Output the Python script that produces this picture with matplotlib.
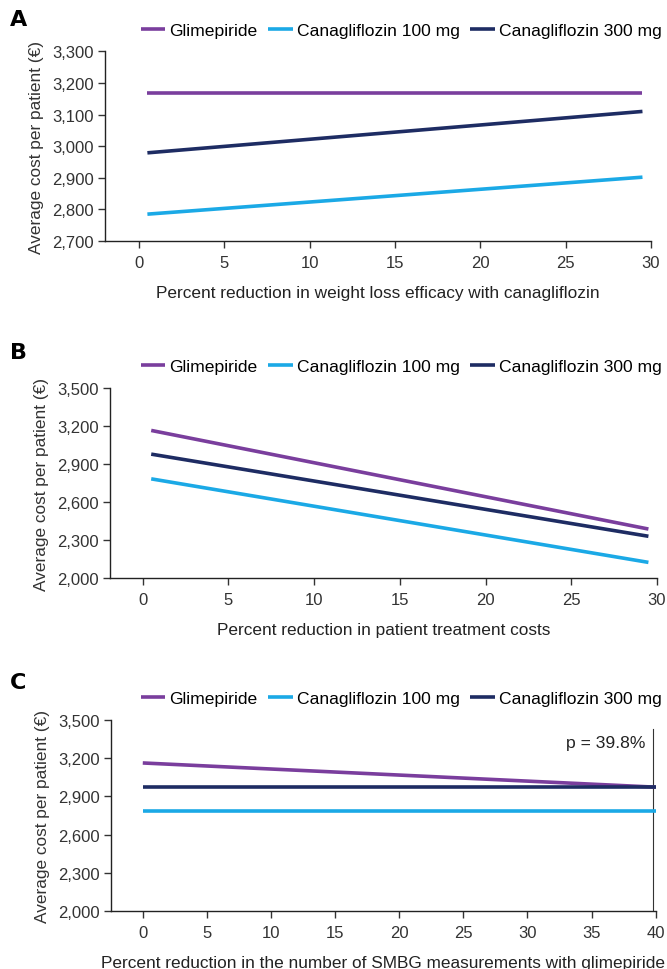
import matplotlib
matplotlib.use("Agg")
import matplotlib.pyplot as plt
from matplotlib.ticker import FuncFormatter

plt.rcParams['font.family'] = ['Liberation Sans', 'DejaVu Sans']

series_names = ["Glimepiride", "Canagliflozin 100 mg", "Canagliflozin 300 mg"]
colors = ["#7A3E9D", "#1BA9E6", "#1E2C63"]

# Panel A: weight loss efficacy reduction
a_x = [0.5, 29.5]
a_glim = [3167, 3167]
a_c100 = [2785, 2902]
a_c300 = [2979, 3110]
a_yticks = [2700, 2800, 2900, 3000, 3100, 3200, 3300]
a_xticks = [0, 5, 10, 15, 20, 25, 30]

# Panel B: patient treatment costs reduction
b_x = [0.5, 29.5]
b_glim = [3165, 2387]
b_c100 = [2783, 2124]
b_c300 = [2978, 2330]
b_yticks = [2000, 2300, 2600, 2900, 3200, 3500]
b_xticks = [0, 5, 10, 15, 20, 25, 30]

# Panel C: SMBG measurement reduction
c_x = [0, 40]
c_glim = [3162, 2972]
c_c100 = [2783, 2783]
c_c300 = [2976, 2976]
c_yticks = [2000, 2300, 2600, 2900, 3200, 3500]
c_xticks = [0, 5, 10, 15, 20, 25, 30, 35, 40]
c_threshold = 39.8
c_threshold_label = "p = 39.8%"

W, H = 667, 970
fig = plt.figure(figsize=(W / 100, H / 100), dpi=100)

fs_tick = 12
fs_lab = 12.4
fs_leg = 12.6
fmt = FuncFormatter(lambda v, p: f"{int(v):,}")

def style(ax, xticks, yticks, xlim, xlabel):
    ax.set_xticks(xticks)
    ax.set_yticks(yticks)
    ax.set_xlim(*xlim)
    ax.set_ylim(yticks[0], yticks[-1])
    ax.yaxis.set_major_formatter(fmt)
    for s in ["top", "right"]:
        ax.spines[s].set_visible(False)
    for s in ["left", "bottom"]:
        ax.spines[s].set_linewidth(1.0)
        ax.spines[s].set_color("#222222")
    ax.tick_params(axis="both", labelsize=fs_tick, colors="#333333", length=5, width=1.0,
                   labelcolor="#333333")
    ax.tick_params(axis="x", pad=5)
    ax.tick_params(axis="y", pad=3)
    ax.set_ylabel("Average cost per patient (€)", fontsize=fs_lab, color="#333333", labelpad=6)
    ax.set_xlabel(xlabel, fontsize=fs_lab, color="#222222", labelpad=11)

def draw(ax, x, ys, letter, leg_y, letter_y):
    for name, y, c in zip(series_names, ys, colors):
        ax.plot(x, y, color=c, lw=2.6, label=name, solid_capstyle="butt", clip_on=False)
    ax.legend(loc="center right", bbox_to_anchor=(662 / W, 1 - leg_y / H),
              bbox_transform=fig.transFigure, ncol=3, frameon=False,
              fontsize=fs_leg, handlelength=1.4, handletextpad=0.25, columnspacing=0.6,
              borderaxespad=0, borderpad=0)
    fig.text(10 / W, 1 - letter_y / H, letter, fontsize=16, fontweight="bold",
             family=['DejaVu Sans'], va="center", ha="left")

axA = fig.add_axes([0.157, 0.7505, 0.819, 0.1955])
draw(axA, a_x, [a_glim, a_c100, a_c300], "A", 31, 20)
style(axA, a_xticks, a_yticks, (-2.0, 30), "Percent reduction in weight loss efficacy with canagliflozin")

axB = fig.add_axes([0.165, 0.403, 0.82, 0.196])
draw(axB, b_x, [b_glim, b_c100, b_c300], "B", 367, 353)
style(axB, b_xticks, b_yticks, (-1.9, 30), "Percent reduction in patient treatment costs")

axC = fig.add_axes([0.166, 0.0598, 0.817, 0.197])
axC.plot([c_threshold, c_threshold], [c_yticks[0], 3430], color="#333333", lw=0.8)
draw(axC, c_x, [c_glim, c_c100, c_c300], "C", 699, 683)
axC.text(c_threshold - 0.6, 3320, c_threshold_label, ha="right", va="center", fontsize=fs_leg,
         color="#222222")
style(axC, c_xticks, c_yticks, (-2.5, 40), "Percent reduction in the number of SMBG measurements with glimepiride")

fig.savefig("out.png", dpi=100)
